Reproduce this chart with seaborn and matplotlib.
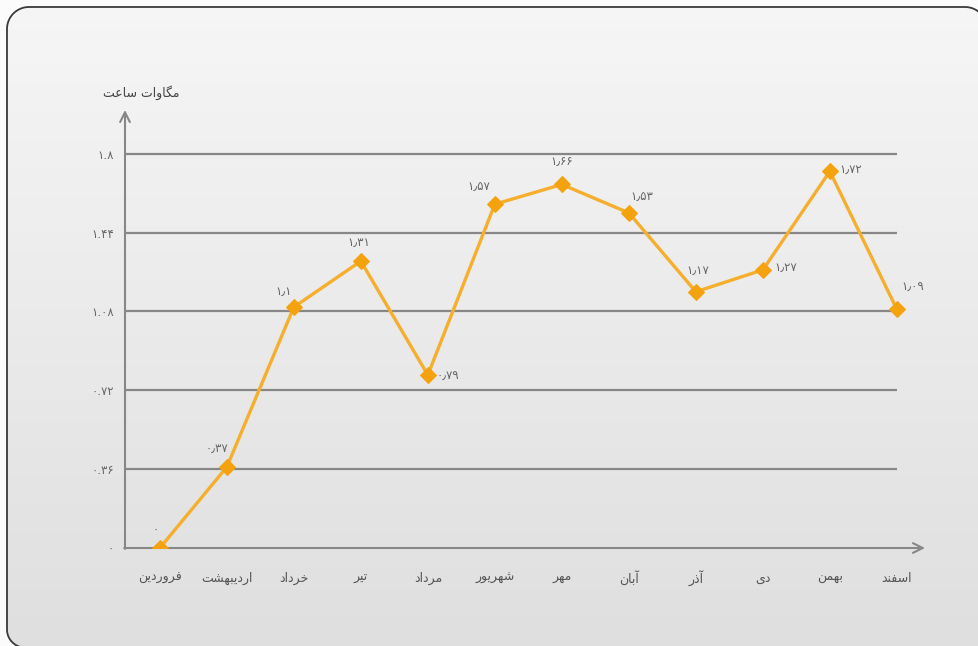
import numpy as np
import pandas as pd
import matplotlib
matplotlib.use("Agg")
import matplotlib.pyplot as plt
from matplotlib.patches import Polygon
from matplotlib import font_manager
from matplotlib.ft2font import FT2Font
import seaborn as sns

# ---- data -------------------------------------------------------------
months = ["فروردین", "اردیبهشت", "خرداد", "تیر", "مرداد", "شهریور",
          "مهر", "آبان", "آذر", "دی", "بهمن", "اسفند"]
values = [0, 0.37, 1.1, 1.31, 0.79, 1.57, 1.66, 1.53, 1.17, 1.27, 1.72, 1.09]
y_ticks = [0, 0.36, 0.72, 1.08, 1.44, 1.8]
y_title = "مگاوات ساعت"

# ---- minimal Persian shaping (matplotlib has no bidi / joining) -------
FORMS = {
    "\u0627": ("\uFE8D", "\uFE8E", None, None),
    "\u0622": ("\uFE81", "\uFE82", None, None),
    "\u0628": ("\uFE8F", "\uFE90", "\uFE91", "\uFE92"),
    "\u062A": ("\uFE95", "\uFE96", "\uFE97", "\uFE98"),
    "\u062E": ("\uFEA5", "\uFEA6", "\uFEA7", "\uFEA8"),
    "\u062F": ("\uFEA9", "\uFEAA", None, None),
    "\u0630": ("\uFEAB", "\uFEAC", None, None),
    "\u0631": ("\uFEAD", "\uFEAE", None, None),
    "\u0633": ("\uFEB1", "\uFEB2", "\uFEB3", "\uFEB4"),
    "\u0634": ("\uFEB5", "\uFEB6", "\uFEB7", "\uFEB8"),
    "\u0639": ("\uFEC9", "\uFECA", "\uFECB", "\uFECC"),
    "\u0641": ("\uFED1", "\uFED2", "\uFED3", "\uFED4"),
    "\u0645": ("\uFEE1", "\uFEE2", "\uFEE3", "\uFEE4"),
    "\u0646": ("\uFEE5", "\uFEE6", "\uFEE7", "\uFEE8"),
    "\u0647": ("\uFEE9", "\uFEEA", "\uFEEB", "\uFEEC"),
    "\u0648": ("\uFEED", "\uFEEE", None, None),
    "\u06CC": ("\uFBFC", "\uFBFD", "\uFBFE", "\uFBFF"),
    "\u06AF": ("\uFB92", "\uFB93", "\uFB94", "\uFB95"),
}

_font_path = font_manager.findfont("DejaVu Sans")
_charmap = FT2Font(_font_path).get_charmap()


def _has(ch):
    return ch is not None and ord(ch) in _charmap


def shape(text):
    out = []
    n = len(text)
    for i, ch in enumerate(text):
        f = FORMS.get(ch)
        if f is None:
            out.append(ch)
            continue
        prev = text[i - 1] if i > 0 else None
        nxt = text[i + 1] if i < n - 1 else None
        join_prev = prev in FORMS and FORMS[prev][2] is not None
        join_next = f[2] is not None and nxt in FORMS
        if join_prev and join_next:
            g = f[3]
        elif join_prev:
            g = f[1]
        elif join_next:
            g = f[2]
        else:
            g = f[0]
        out.append(g if _has(g) else ch)
    return "".join(reversed(out))


FA_DIGITS = str.maketrans("0123456789", "۰۱۲۳۴۵۶۷۸۹")


def fa_num(v, sep="."):
    return f"{v:g}".replace(".", sep).translate(FA_DIGITS)


def arc(cx, cy, r, a0, a1, n=24):
    a = np.radians(np.linspace(a0, a1, n))
    return np.column_stack([cx + r * np.cos(a), cy + r * np.sin(a)])


# ---- figure -----------------------------------------------------------
sns.set_style("white")
plt.rcParams["font.family"] = ["DejaVu Sans"]

W, H = 979, 646
fig = plt.figure(figsize=(W / 100, H / 100), dpi=100)
fig.patch.set_facecolor("#fbfbfb")

# rounded panel with a soft vertical gradient (runs off the right/bottom edge)
bg = fig.add_axes([0, 0, 1, 1], zorder=-5)
bg.set_xlim(0, W)
bg.set_ylim(H, 0)
bg.axis("off")
L, T, R, B = 7, 7, 987, 647.5
rt, rb = 22, 18
outline = np.vstack([
    [[L, T + rt], [L, B - rb]],
    arc(L + rb, B - rb, rb, 180, 90),
    [[R + 30, B], [R, T + rt]],
    arc(R - rt, T + rt, rt, 0, -90),
    [[L + rt, T]],
    arc(L + rt, T + rt, rt, -90, -180),
])
panel = Polygon(outline, closed=True, facecolor="none", edgecolor="#3a3a3a",
                lw=1.3, transform=bg.transData, zorder=3)
grad = np.linspace(0, 1, 256)[:, None]
im = bg.imshow(grad, extent=(0, W, H, 0), aspect="auto",
               cmap=matplotlib.colors.LinearSegmentedColormap.from_list(
                   "panel", ["#f6f6f6", "#dfdfdf"]), zorder=1)
im.set_clip_path(panel)
bg.add_patch(panel)

# plot area
ax = fig.add_axes([125 / W, 1 - 548 / H, 800 / W, 438 / H])
ax.set_facecolor("none")
ax.set_xlim(-0.52, 11.42)
ax.set_ylim(0, 2.0)

axis_col = "#878787"
ax.hlines(y_ticks[1:], -0.52, 11, colors=axis_col, lw=1.6, zorder=1)

df = pd.DataFrame({"month": [shape(m) for m in months], "value": values})
sns.lineplot(data=df, x="month", y="value", ax=ax, sort=False,
             color="#F6AE2D", lw=2.4, marker="D", markersize=8,
             markerfacecolor="#F5A20F", markeredgecolor="#F5A20F", zorder=4)

for s in ax.spines.values():
    s.set_visible(False)

# axes arrows
ax.annotate("", xy=(1.0, 0), xytext=(-0.001, 0), xycoords="axes fraction",
            arrowprops=dict(arrowstyle="->,head_length=0.7,head_width=0.35",
                            color=axis_col, lw=1.5, shrinkA=0, shrinkB=0))
ax.annotate("", xy=(0, 1.0), xytext=(0, -0.002), xycoords="axes fraction",
            arrowprops=dict(arrowstyle="->,head_length=0.7,head_width=0.35",
                            color=axis_col, lw=1.5, shrinkA=0, shrinkB=0))

ax.set_xticks(range(len(months)))
ax.set_xticklabels([shape(m) for m in months])
ax.set_yticks(y_ticks)
ax.set_yticklabels([fa_num(t) for t in y_ticks])
ax.tick_params(axis="x", length=5, width=1.2, color=axis_col, pad=16.6,
               labelsize=9, labelcolor="#555555", direction="out")
for lbl in ax.get_xticklabels():
    lbl.set_va("center")
ax.tick_params(axis="y", length=5, width=1.6, color=axis_col, pad=3,
               labelsize=8.5, labelcolor="#666666", direction="out")
ax.set_xlabel("")
ax.set_ylabel("")

ax.text(0.02, 1.04, shape(y_title), transform=ax.transAxes, ha="center",
        va="center", fontsize=9, color="#444444")

# value labels (pixel offsets from each marker)
offsets = [(-4, 18, "center"), (-10, 19, "center"), (-10, 16, "center"),
           (-2, 19, "center"), (9, -1, "left"), (-16, 17, "center"),
           (0, 22, "center"), (13, 16, "center"), (2, 21, "center"),
           (12, 2, "left"), (10, 2, "left"), (16, 22, "center")]
for i, (v, (dx, dy, ha)) in enumerate(zip(values, offsets)):
    ax.annotate(fa_num(v, "٫"), (i, v), xytext=(dx * 0.72, dy * 0.72),
                textcoords="offset points", ha=ha, va="center",
                fontsize=8.5, color="#666666", zorder=5)

fig.savefig("out.png", dpi=100, facecolor=fig.get_facecolor())
